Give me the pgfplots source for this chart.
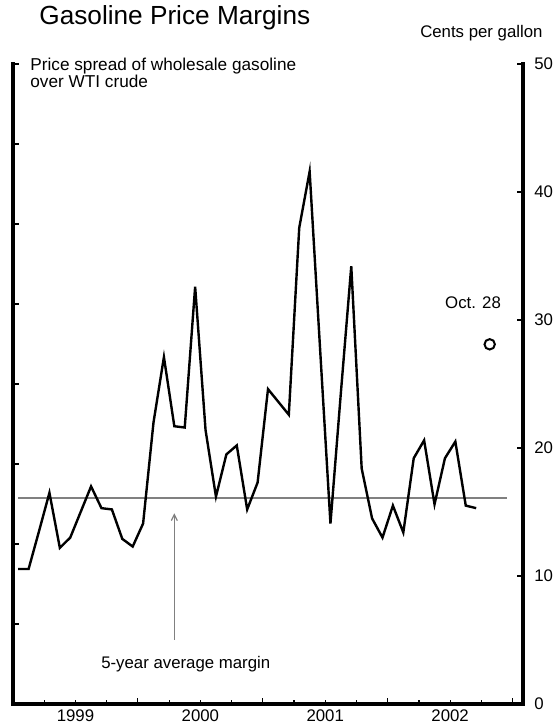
\documentclass[border=0pt]{standalone}
\usepackage{fontspec}
\setmainfont{Liberation Sans}
\usepackage{pgfplots}
\usepackage{pgfplotstable}
\pgfplotsset{compat=1.18}
\usetikzlibrary{arrows.meta}

% monthly spread, Jan 1999 (m=0) to Sep 2002 (m=44), cents per gallon
\pgfplotstableread{
m v
0 10.55
1 10.55
2 13.5
3 16.5
4 12.2
5 13.0
6 15.0
7 17.0
8 15.3
9 15.2
10 12.9
11 12.3
12 14.1
13 22.0
14 27.1
15 21.7
16 21.6
17 32.6
18 21.4
19 16.2
20 19.5
21 20.2
22 15.2
23 17.3
24 24.6
25 23.6
26 22.6
27 37.2
28 41.6
29 27.8
30 14.1
31 24.3
32 34.2
33 18.4
34 14.5
35 13.0
36 15.5
37 13.4
38 19.2
39 20.6
40 15.6
41 19.2
42 20.5
43 15.5
44 15.3
}\margins

\newcommand{\smallfont}{\fontsize{8.4}{10}\selectfont}

\begin{document}
\begin{tikzpicture}
\useasboundingbox (-6.5pt,-11pt) rectangle (273pt,352pt);

% left spine with unlabelled ticks
\begin{axis}[
  at={(0,0)}, anchor=south west, scale only axis,
  width=255pt, height=320pt,
  xmin=-0.5, xmax=48.5, ymin=0, ymax=50,
  axis x line=none, axis y line*=left,
  ytick={0,6.25,...,50}, yticklabels={},
  tick align=inside, major tick length=3pt,
  axis line style={line width=1.6pt, line cap=rect},
  tick style={black, line width=0.6pt},
]
\addplot[draw=none] coordinates {(0,0)};
\end{axis}

\begin{axis}[
  at={(0,0)}, anchor=south west, scale only axis,
  width=255pt, height=320pt,
  xmin=-0.5, xmax=48.5, ymin=0, ymax=50,
  axis x line*=bottom, axis y line*=right,
  axis line style={line width=1.6pt, line cap=rect},
  tick align=inside,
  major tick length=3pt, minor tick length=1.8pt,
  tick style={black, line width=0.6pt},
  xtick={-0.5,11.5,23.5,35.5,47.5}, xticklabels={},
  minor xtick={2.5,5.5,8.5,14.5,17.5,20.5,26.5,29.5,32.5,38.5,41.5,44.5},
  extra x ticks={5.5,17.5,29.5,41.5},
  extra x tick labels={1999,2000,2001,2002},
  extra x tick style={major tick length=0pt},
  xticklabel style={font=\smallfont, inner sep=0pt, anchor=north, yshift=-2.5pt},
  ytick={0,10,...,50},
  yticklabel style={font=\smallfont, inner sep=0pt, anchor=west, xshift=5.5pt},
  /pgf/number format/assume math mode=true,
  clip=false,
]
\addplot[gray, line width=0.8pt] coordinates {(0,16.1) (47,16.1)};
\addplot[black, line width=1.2pt] table[x=m, y=v] {\margins};
\addplot[only marks, mark=o, mark size=2.6pt, mark options={line width=1pt, black}] coordinates {(45.3,28.1)};

\node[anchor=base, inner sep=0, font=\smallfont] at (axis cs:43.7,30.9) {Oct. 28};
\node[anchor=base, inner sep=0, font=\smallfont] at (axis cs:16.1,2.8) {5-year average margin};
\draw[gray, line width=0.6pt, -{Straight Barb[length=3pt, width=3pt]}] (axis cs:15,5) -- (axis cs:15,14.9);

\node[anchor=base west, inner sep=0, font=\fontsize{13.1}{15}\selectfont, xshift=13pt, yshift=19.5pt] at (rel axis cs:0,1) {Gasoline Price Margins};
\node[anchor=base west, inner sep=0, font=\fontsize{8.6}{10}\selectfont, xshift=8.5pt, yshift=-3.5pt] at (rel axis cs:0,1) {Price spread of wholesale gasoline};
\node[anchor=base west, inner sep=0, font=\fontsize{8.6}{10}\selectfont, xshift=8.5pt, yshift=-11.6pt] at (rel axis cs:0,1) {over WTI crude};
\node[anchor=base east, inner sep=0, font=\smallfont, xshift=10pt, yshift=13pt] at (rel axis cs:1,1) {Cents per gallon};
\end{axis}
\end{tikzpicture}
\end{document}
